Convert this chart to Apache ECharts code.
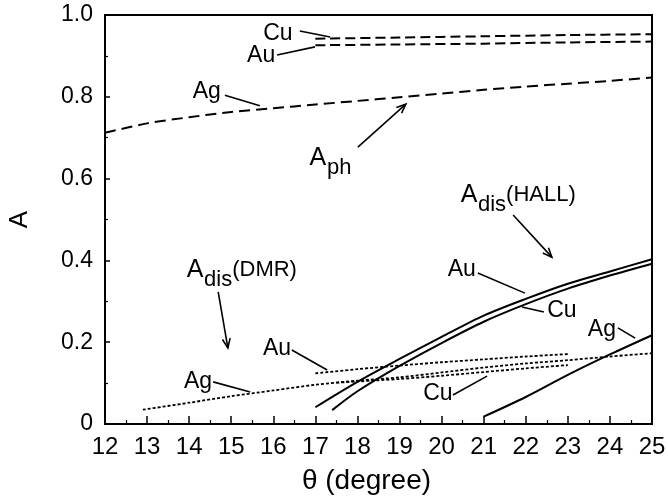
<!DOCTYPE html>
<html><head><meta charset="utf-8">
<script src="https://cdn.jsdelivr.net/npm/echarts@6/dist/echarts.min.js"></script>
<style>html,body{margin:0;padding:0;background:#fff}#c{width:668px;height:499px}</style>
</head><body><div id="c"></div>
<script>
// ---- data (theta in degree, A) ----
const phCuTheta = [17, 19, 21, 23, 25];
const phCuA     = [0.942, 0.945, 0.948, 0.951, 0.953];
const phAuTheta = [17, 19, 21, 23, 25];
const phAuA     = [0.926, 0.928, 0.930, 0.933, 0.935];
const phAgTheta = [12, 13, 14, 15, 16, 17, 18, 19, 20, 21, 22, 23, 24, 25];
const phAgA     = [0.712, 0.735, 0.750, 0.763, 0.772, 0.781, 0.790, 0.799, 0.808, 0.817, 0.825, 0.832, 0.839, 0.847];

const hallAuTheta = [17, 18, 19, 20, 21, 22, 23, 24, 25];
const hallAuA     = [0.041, 0.103, 0.159, 0.213, 0.265, 0.306, 0.343, 0.373, 0.403];
const hallCuTheta = [17.4, 18, 19, 20, 21, 22, 23, 24, 25];
const hallCuA     = [0.034, 0.080, 0.142, 0.198, 0.250, 0.293, 0.331, 0.363, 0.392];
const hallAgTheta = [21, 22, 23, 24, 25];
const hallAgA     = [0.018, 0.066, 0.120, 0.170, 0.217];

const dmrAgTheta = [12.9, 14, 15, 16, 17, 18, 19, 20, 21, 22, 23, 24, 25];
const dmrAgA     = [0.035, 0.052, 0.068, 0.082, 0.096, 0.106, 0.114, 0.126, 0.138, 0.148, 0.156, 0.165, 0.173];
const dmrAuTheta = [17, 18, 19, 20, 21, 22, 23];
const dmrAuA     = [0.124, 0.134, 0.143, 0.151, 0.158, 0.165, 0.171];
const dmrCuTheta = [17.5, 18, 19, 20, 21, 22, 23];
const dmrCuA     = [0.101, 0.104, 0.110, 0.118, 0.127, 0.136, 0.144];

const xMin = 12, xMax = 25, xStep = 1;
const yMin = 0, yMax = 1, yStep = 0.2;

// ---- annotations (data coordinates) ----
const labelTexts = [
  ['Cu', 16.11, 0.954], ['Au', 15.71, 0.900], ['Ag', 14.42, 0.812],
  ['Au', 16.09, 0.183], ['Ag', 14.21, 0.103],
  ['Au', 20.48, 0.377], ['Cu', 22.86, 0.276], ['Ag', 23.81, 0.230],
  ['Cu', 19.91, 0.073]
];
const leaderLines = [
  [16.63, 0.961, 17.35, 0.946], [16.09, 0.902, 16.99, 0.922], [14.85, 0.804, 15.68, 0.778],
  [16.44, 0.181, 17.28, 0.132], [14.57, 0.103, 15.45, 0.078],
  [20.86, 0.369, 21.98, 0.320], [21.91, 0.286, 22.43, 0.274], [24.19, 0.235, 24.60, 0.210],
  [20.27, 0.071, 21.08, 0.117]
];
// [main, sub, suffix, x, y]
const curveNames = [
  ['A', 'ph', '', 17.06, 0.650],
  ['A', 'dis', '(HALL)', 20.65, 0.560],
  ['A', 'dis', '(DMR)', 14.14, 0.377]
];
const arrows = [
  [18.01, 0.677, 19.15, 0.782],
  [21.70, 0.511, 22.62, 0.408],
  [14.69, 0.323, 14.92, 0.186]
];

const zip = (xs, ys) => xs.map((x, i) => [x, ys[i]]);

const chart = echarts.init(document.getElementById('c'), null, {renderer: 'canvas'});
const FONT = '"Liberation Sans", Arial, sans-serif';

function lineSeries(name, xs, ys, type, width) {
  return {
    name, type: 'line', data: zip(xs, ys), showSymbol: false, symbol: 'none',
    smooth: 0.3, silent: true, animation: false,
    lineStyle: {color: '#000', width: width, type: type}
  };
}

chart.setOption({
  animation: false,
  backgroundColor: '#fff',
  grid: {left: 105, right: 16, top: 15, bottom: 75, containLabel: false, outerBoundsMode: 'none',
    show: true, borderColor: '#000', borderWidth: 2, backgroundColor: 'transparent'},
  xAxis: {
    type: 'value', min: xMin, max: xMax, interval: xStep,
    name: 'θ (degree)', nameLocation: 'middle', nameGap: 43,
    nameTextStyle: {fontFamily: FONT, fontSize: 28, color: '#000', padding: [0, 24, 0, 0]},
    axisLine: {show: true, onZero: false, lineStyle: {color: '#000', width: 2}},
    axisTick: {show: true, inside: true, length: 8, lineStyle: {color: '#000', width: 1.5}},
    minorTick: {show: true, splitNumber: 2, length: 4, lineStyle: {color: '#000', width: 1.2}},
    axisLabel: {fontFamily: FONT, fontSize: 24, color: '#000', margin: 11},
    splitLine: {show: false}
  },
  yAxis: {
    type: 'value', min: yMin, max: yMax, interval: yStep,
    name: 'A', nameLocation: 'middle', nameGap: 72, nameRotate: 90,
    nameTextStyle: {fontFamily: FONT, fontSize: 26, color: '#000'},
    axisLine: {show: true, onZero: false, lineStyle: {color: '#000', width: 2}},
    axisTick: {show: true, inside: true, length: 5, lineStyle: {color: '#000', width: 1.5}},
    minorTick: {show: true, splitNumber: 2, length: 3, lineStyle: {color: '#000', width: 1.2}},
    axisLabel: {fontFamily: FONT, fontSize: 23, color: '#000', margin: 12,
      formatter: v => (v === 0 ? '0' : v.toFixed(1))},
    splitLine: {show: false}
  },
  series: [
    lineSeries('ph Cu', phCuTheta, phCuA, [10, 5], 2),
    lineSeries('ph Au', phAuTheta, phAuA, [10, 5], 2),
    lineSeries('ph Ag', phAgTheta, phAgA, [11, 6], 2),
    lineSeries('HALL Au', hallAuTheta, hallAuA, 'solid', 2),
    lineSeries('HALL Cu', hallCuTheta, hallCuA, 'solid', 2),
    lineSeries('HALL Ag', hallAgTheta, hallAgA, 'solid', 2),
    lineSeries('DMR Ag', dmrAgTheta, dmrAgA, [3, 2], 1.8),
    lineSeries('DMR Au', dmrAuTheta, dmrAuA, [3, 2], 1.8),
    lineSeries('DMR Cu', dmrCuTheta, dmrCuA, [3, 2], 1.8)
  ]
});

const P = (x, y) => chart.convertToPixel({gridIndex: 0}, [x, y]);
function txt(t, x, y, size, align) {
  return {type: 'text', x: x, y: y, silent: true,
    style: {text: t, fontSize: size, fontFamily: FONT, fill: '#000',
      align: align, verticalAlign: 'middle', textAlign: align, textVerticalAlign: 'middle'}};
}
const g = [];
labelTexts.forEach(([t, x, y]) => {
  const p = P(x, y);
  g.push(txt(t, p[0], p[1], 23, 'center'));
});
leaderLines.forEach(([x1, y1, x2, y2]) => {
  const a = P(x1, y1), b = P(x2, y2);
  g.push({type: 'line', silent: true, shape: {x1: a[0], y1: a[1], x2: b[0], y2: b[1]},
    style: {stroke: '#000', lineWidth: 1.6}});
});
curveNames.forEach(([m, s, suf, x, y]) => {
  const p = P(x, y);
  g.push(txt(m, p[0], p[1], 25, 'center'));
  g.push(txt(s, p[0] + 9, p[1] + 10, 22, 'left'));
  if (suf) {
    const sw = echarts.format.getTextRect ? echarts.format.getTextRect(s, '22px ' + FONT).width : 28;
    g.push(txt(suf, p[0] + 9 + sw, p[1], 22, 'left'));
  }
});
arrows.forEach(([x1, y1, x2, y2]) => {
  const a = P(x1, y1), b = P(x2, y2);
  g.push({type: 'line', silent: true, shape: {x1: a[0], y1: a[1], x2: b[0], y2: b[1]},
    style: {stroke: '#000', lineWidth: 1.6}});
  const ang = Math.atan2(b[1] - a[1], b[0] - a[0]);
  const L = 10, w = 0.4;
  g.push({type: 'polyline', silent: true,
    shape: {points: [
      [b[0] - L * Math.cos(ang - w), b[1] - L * Math.sin(ang - w)],
      [b[0], b[1]],
      [b[0] - L * Math.cos(ang + w), b[1] - L * Math.sin(ang + w)]
    ]},
    style: {stroke: '#000', lineWidth: 1.6, fill: null}});
});
chart.setOption({graphic: g});
</script>
</body></html>
